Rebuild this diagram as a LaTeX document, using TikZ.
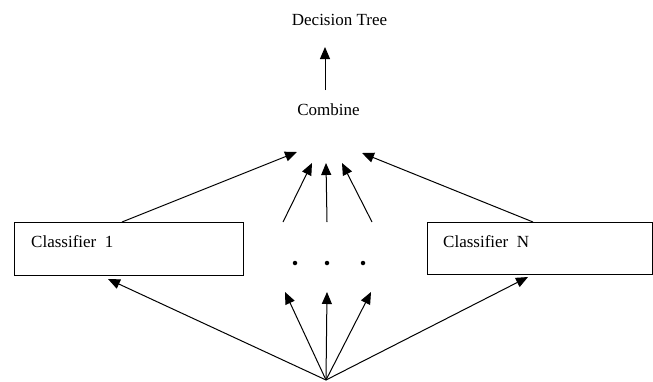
\documentclass[tikz,border=0pt]{standalone}
\usepackage{fontspec}
\setmainfont{Liberation Serif}
\usetikzlibrary{arrows.meta}
\begin{document}
\begin{tikzpicture}[x=1pt,y=-1pt,
  every node/.style={font=\fontsize{17}{20}\selectfont, inner sep=0pt},
  conn/.style={line width=1pt, -{Triangle[length=12pt,width=10pt]}},
  boxstyle/.style={draw, line width=1pt},
  dotstyle/.style={circle, fill=black, minimum size=4.5pt, inner sep=0pt}]
\useasboundingbox (0,0) rectangle (653,381);
% texts
\node (dt) at (339.5,20) {Decision Tree};
\node (comb) at (328.5,110) {Combine};
% boxes
\draw[boxstyle] (14,222) rectangle (243,275);
\draw[boxstyle] (427,222) rectangle (652,274);
\node[anchor=base west] (c1) at (31,247) {Classifier\ \ 1};
\node[anchor=base west] (cn) at (443,247) {Classifier\ \ N};
% dots
\node[dotstyle] (d1) at (295,263) {};
\node[dotstyle] (d2) at (327,263) {};
\node[dotstyle] (d3) at (363,263) {};
% coordinates
\coordinate (vb) at (325,90);
\coordinate (vt) at (325,47);
\coordinate (l1s) at (122,222);
\coordinate (l1t) at (297,152);
\coordinate (r1s) at (533,222);
\coordinate (r1t) at (362,153);
\coordinate (m1s) at (283,222);
\coordinate (m1t) at (312,163);
\coordinate (m2s) at (327,222);
\coordinate (m2t) at (326,163);
\coordinate (m3s) at (372,222);
\coordinate (m3t) at (342,163);
\coordinate (src) at (326,380);
\coordinate (lbt) at (108,279);
\coordinate (b1t) at (285,292);
\coordinate (b2t) at (327,292);
\coordinate (b3t) at (371,292);
\coordinate (rbt) at (528,277);
% connectors
\draw[conn] (vb) -- (vt);
\draw[conn] (l1s) -- (l1t);
\draw[conn] (r1s) -- (r1t);
\draw[conn] (m1s) -- (m1t);
\draw[conn] (m2s) -- (m2t);
\draw[conn] (m3s) -- (m3t);
\draw[conn] (src) -- (lbt);
\draw[conn] (src) -- (b1t);
\draw[conn] (src) -- (b2t);
\draw[conn] (src) -- (b3t);
\draw[conn] (src) -- (rbt);
\end{tikzpicture}
\end{document}
